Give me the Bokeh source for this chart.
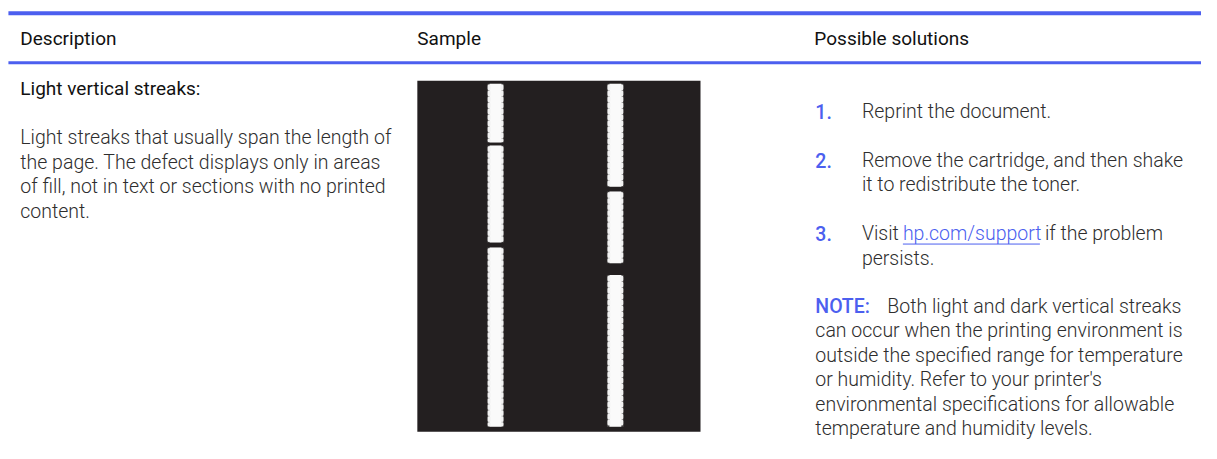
from bokeh.plotting import figure
from bokeh.models import Range1d
from bokeh.core.properties import value
from bokeh.embed import file_html
from bokeh.resources import INLINE

# ---- content (data) ----
headers = ["Description", "Sample", "Possible solutions"]
row_title = "Light vertical streaks:"
desc_lines = [
    "Light streaks that usually span the length of",
    "the page. The defect displays only in areas",
    "of fill, not in text or sections with no printed",
    "content.",
]
step_numbers = ["1.", "2.", "3."]
step1_lines = ["Reprint the document."]
step2_lines = ["Remove the cartridge, and then shake", "it to redistribute the toner."]
step3_parts = ["Visit", "hp.com/support", "if the problem"]
step3_line2 = "persists."
note_label = "NOTE:"
note_lines = [
    "Both light and dark vertical streaks",
    "can occur when the printing environment is",
    "outside the specified range for temperature",
    "or humidity. Refer to your printer's",
    "environmental specifications for allowable",
    "temperature and humidity levels.",
]
# streak segments in the sample image (top, bottom)
left_streak_top = [85, 148, 252]
left_streak_bottom = [145, 247, 435]
right_streak_top = [85, 195, 280]
right_streak_bottom = [190, 268, 435]

BLUE = "#4C5FEF"
BODY = "#2E2E2E"
BODY_FONT = value("'Roboto Light', Roboto")
HEAD_FONT = value("Roboto")
NUM_FONT = value("'Roboto Medium', Roboto")
BODY_SIZE = "19.5px"
HEAD_SIZE = "19px"
MID = 7  # baseline -> middle offset

W, H = 1201, 443
XMAX, YMAX = 1213, 452
SX = W / XMAX  # screen px per data unit


def put(xs, baselines, texts, font, size, color):
    p.text(x=xs, y=[b - MID for b in baselines], text=texts, text_font=font,
           text_font_size=size, text_color=color, text_baseline="middle")


p = figure(width=W, height=H, output_backend="svg", toolbar_location=None,
           x_range=Range1d(0, XMAX), y_range=Range1d(YMAX, 0),
           min_border=0, outline_line_color=None, background_fill_color="white",
           border_fill_color="white")
p.axis.visible = False
p.grid.visible = False

# blue rules
p.quad(left=[8], right=[XMAX], top=[11], bottom=[15], fill_color=BLUE, line_color=None)
p.quad(left=[8], right=[XMAX], top=[62], bottom=[65], fill_color=BLUE, line_color=None)

# headers
put([20, 421, 822], [46, 46, 46], headers, HEAD_FONT, HEAD_SIZE, "#111111")

# description column
put([20], [97], [row_title], HEAD_FONT, HEAD_SIZE, "#111111")
put([20] * len(desc_lines), [147 + 25 * i for i in range(len(desc_lines))],
    desc_lines, BODY_FONT, BODY_SIZE, BODY)

# sample image
p.quad(left=[421], right=[707], top=[82], bottom=[440], fill_color="#231F20", line_color=None)
for cx, tops, bots in ((500, left_streak_top, left_streak_bottom),
                       (621, right_streak_top, right_streak_bottom)):
    p.quad(left=[cx - 8.5] * 3, right=[cx + 8.5] * 3, top=tops, bottom=bots,
           fill_color="#8A8A8A", fill_alpha=0.35, line_color=None)
    p.quad(left=[cx - 6] * 3, right=[cx + 6] * 3, top=tops, bottom=bots,
           fill_color="#FAFAFA", line_color=None)
    # serrated edges
    for dx in (-6.5, 6.5):
        p.segment(x0=[cx + dx] * 3, x1=[cx + dx] * 3, y0=[t + 2 for t in tops],
                  y1=[b - 2 for b in bots], line_color="#F2F2F2", line_width=3,
                  line_dash="3 3", line_cap="round")

# solutions column
TX = 870
put([823] * 3, [120, 170, 245], step_numbers, NUM_FONT, BODY_SIZE, BLUE)
put([TX], [120], step1_lines, BODY_FONT, BODY_SIZE, BODY)
put([TX, TX], [170, 195], step2_lines, BODY_FONT, BODY_SIZE, BODY)
# line 3 pieces placed by screen-pixel offsets from the line start
link_x = TX + 41 / SX
rest_x = TX + (41 + 137 + 5) / SX
put([TX, rest_x], [245, 245], [step3_parts[0], step3_parts[2]], BODY_FONT, BODY_SIZE, BODY)
put([link_x], [245], [step3_parts[1]], BODY_FONT, BODY_SIZE, BLUE)
p.segment(x0=[link_x], x1=[link_x + 137 / SX], y0=[248.5], y1=[248.5],
          line_color=BLUE, line_width=1)
put([TX], [270], [step3_line2], BODY_FONT, BODY_SIZE, BODY)

put([823], [319], [note_label], NUM_FONT, BODY_SIZE, BLUE)
put([823 + 72 / SX] + [823] * (len(note_lines) - 1),
    [319 + 25 * i for i in range(len(note_lines))], note_lines,
    BODY_FONT, BODY_SIZE, BODY)

open("out.html", "w").write(file_html(p, INLINE))
